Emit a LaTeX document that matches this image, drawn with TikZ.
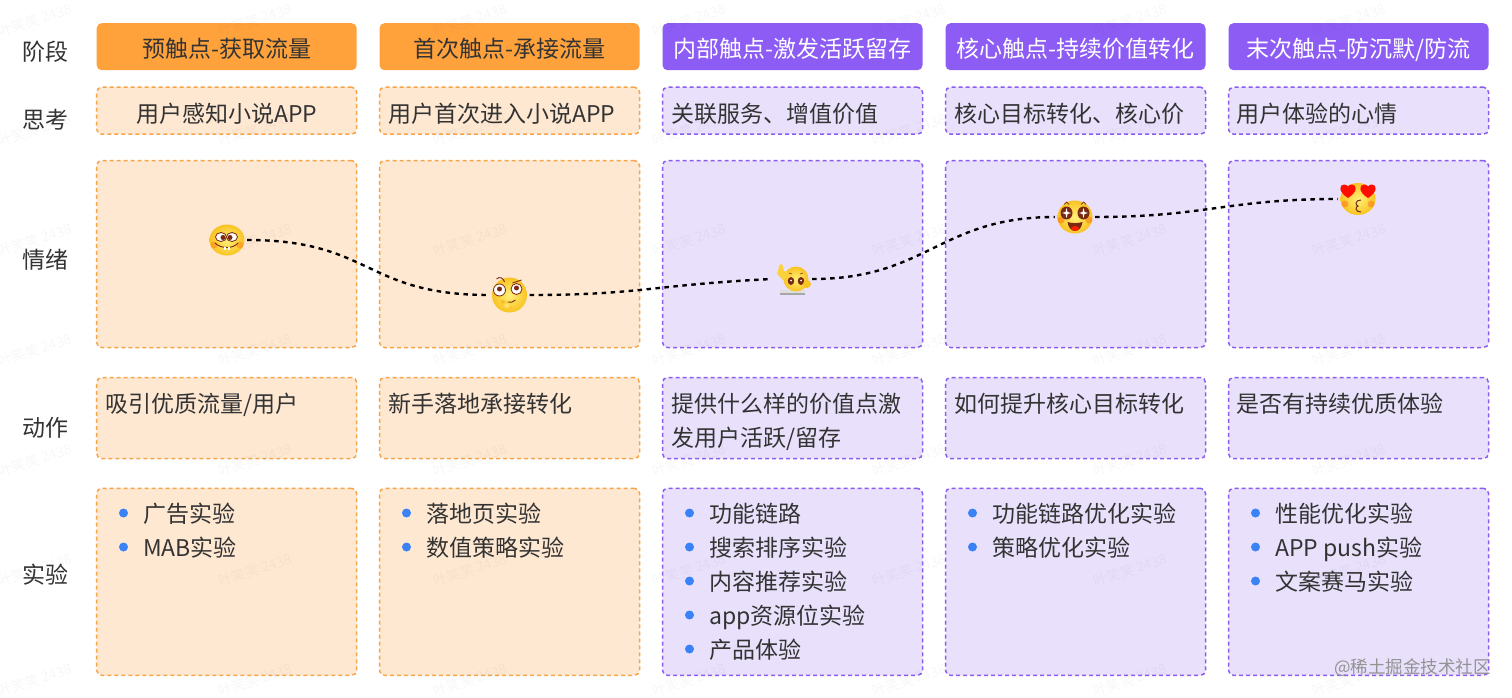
\documentclass[tikz,border=0pt]{standalone}
\usepackage{fontspec}
\setmainfont{Noto Sans CJK SC}
\usetikzlibrary{calc}
\definecolor{ink}{HTML}{333333}
\definecolor{orHead}{HTML}{FFA23C}
\definecolor{orFill}{HTML}{FEE8D2}
\definecolor{orLine}{HTML}{F6A548}
\definecolor{puHead}{HTML}{8C5CF4}
\definecolor{puFill}{HTML}{E9E1FC}
\definecolor{puLine}{HTML}{8A5CF0}
\definecolor{dotBlue}{HTML}{3B82F6}
\definecolor{eyeBrown}{HTML}{7A2A12}
\definecolor{faceHi}{HTML}{FFF07A}
\definecolor{faceLo}{HTML}{F9C321}
\newcommand{\txt}{\fontsize{23}{28}\selectfont}
\tikzset{
  x=1pt,y=-1pt,
  headO/.style={draw=none,fill=orHead,rounded corners=5pt,inner sep=0pt,minimum width=260pt},
  headP/.style={draw=none,fill=puHead,rounded corners=5pt,inner sep=0pt,minimum width=260pt},
  cellO/.style={draw=orLine,fill=orFill,line width=1.5pt,dash pattern=on 4pt off 3pt,rounded corners=5pt,inner sep=0pt,minimum width=260pt},
  cellP/.style={draw=puLine,fill=puFill,line width=1.5pt,dash pattern=on 4pt off 3pt,rounded corners=5pt,inner sep=0pt,minimum width=260pt},
  rowT/.style={minimum height=47pt},
  rowE/.style={minimum height=187pt},
  rowA/.style={minimum height=81pt},
  rowX/.style={minimum height=187pt},
  lab/.style={font=\txt,text=ink,anchor=base,inner sep=0pt},
  lft/.style={font=\txt,text=ink,anchor=base west,inner sep=0pt},
  midK/.style={font=\txt,text=ink,anchor=base,inner sep=0pt},
  midW/.style={font=\txt,text=white,anchor=base,inner sep=0pt},
  bul/.style={circle,fill=dotBlue,inner sep=0pt,minimum size=9pt},
  emo/.style={circle,inner sep=0pt,minimum size=40pt},
  moodline/.style={draw=black,line width=2.4pt,dash pattern=on 4.5pt off 4.5pt},
  wmark/.style={font=\fontsize{14}{16}\selectfont,text=black,opacity=0.03,rotate=18,inner sep=0pt},
  facefill/.style={shading=radial,inner color=faceHi,outer color=faceLo,draw=none},
}
\begin{document}
\begin{tikzpicture}
\useasboundingbox (0,0) rectangle (1512,698);
\fill[white] (0,0) rectangle (1512,698);

% cells, column by column
\node[headO,rowT] (h1) at (226.7,46.7) {};
\node[headO,rowT] (h2) at (509.5,46.7) {};
\node[headP,rowT] (h3) at (792.5,46.7) {};
\node[headP,rowT] (h4) at (1075.5,46.7) {};
\node[headP,rowT] (h5) at (1358.5,46.7) {};
\node[cellO,rowT] (t1) at (226.7,110.7) {};
\node[cellO,rowT] (t2) at (509.5,110.7) {};
\node[cellP,rowT] (t3) at (792.5,110.7) {};
\node[cellP,rowT] (t4) at (1075.5,110.7) {};
\node[cellP,rowT] (t5) at (1358.5,110.7) {};
\node[cellO,rowE] (m1) at (226.7,254) {};
\node[cellO,rowE] (m2) at (509.5,254) {};
\node[cellP,rowE] (m3) at (792.5,254) {};
\node[cellP,rowE] (m4) at (1075.5,254) {};
\node[cellP,rowE] (m5) at (1358.5,254) {};
\node[cellO,rowA] (a1) at (226.7,418) {};
\node[cellO,rowA] (a2) at (509.5,418) {};
\node[cellP,rowA] (a3) at (792.5,418) {};
\node[cellP,rowA] (a4) at (1075.5,418) {};
\node[cellP,rowA] (a5) at (1358.5,418) {};
\node[cellO,rowX] (x1) at (226.7,581.8) {};
\node[cellO,rowX] (x2) at (509.5,581.8) {};
\node[cellP,rowX] (x3) at (792.5,581.8) {};
\node[cellP,rowX] (x4) at (1075.5,581.8) {};
\node[cellP,rowX] (x5) at (1358.5,581.8) {};

% faint watermarks
\foreach \wx/\wi in {35/a,255/b,470/c,689/d,909/e,1130/f,1349/g}
  \foreach \wy/\wj in {20/a,130/b,240/c,350/d,460/e,570/f,680/g}
    \node[wmark] (w\wi\wj) at (\wx,\wy) {叶笑笑 2438};

% row labels
\node[lab] (l1) at (46,61) {阶段};
\node[lab] (l2) at (46,128.5) {思考};
\node[lab] (l3) at (46,268) {情绪};
\node[lab] (l4) at (46,436) {动作};
\node[lab] (l5) at (46,583) {实验};

% stage titles
\node[midK] at (226.7,58) (ht1) {预触点-获取流量};
\node[midK] at (509.5,58) (ht2) {首次触点-承接流量};
\node[midW] at (792.5,58) (ht3) {内部触点-激发活跃留存};
\node[midW] at (1075.5,58) (ht4) {核心触点-持续价值转化};
\node[midW] at (1358.5,58) (ht5) {末次触点-防沉默/防流};

% thinking
\node[midK] at (226.7,122.5) (tt1) {用户感知小说APP};
\node[lft] at (388,122.5) (tt2) {用户首次进入小说APP};
\node[lft] at (671,122.5) (tt3) {关联服务、增值价值};
\node[lft] at (954,122.5) (tt4) {核心目标转化、核心价};
\node[lft] at (1236.5,122.5) (tt5) {用户体验的心情};

% actions
\node[lft] at (105,412.5) (at1) {吸引优质流量/用户};
\node[lft] at (388,412.5) (at2) {新手落地承接转化};
\node[lft] at (671,412.5) (at3) {提供什么样的价值点激};
\node[lft] at (671,446.5) (at3b) {发用户活跃/留存};
\node[lft] at (954,412.5) (at4) {如何提升核心目标转化};
\node[lft] at (1236.5,412.5) (at5) {是否有持续优质体验};

% experiment lists
\foreach \bx/\by/\bn in {123.5/513/a,123.5/547/b,406.5/513/c,406.5/547/d,689.5/513/e,689.5/547/f,689.5/581/g,689.5/615/h,689.5/649/i,972.5/513/j,972.5/547/k,1255.5/513/l,1255.5/547/m,1255.5/581/n}
  \node[bul] (b\bn) at (\bx,\by) {};
\node[lft] at (143,522.5) (xa) {广告实验};
\node[lft] at (143,556.5) (xb) {MAB实验};
\node[lft] at (426,522.5) (xc) {落地页实验};
\node[lft] at (426,556.5) (xd) {数值策略实验};
\node[lft] at (709,522.5) (xe) {功能链路};
\node[lft] at (709,556.5) (xf) {搜索排序实验};
\node[lft] at (709,590.5) (xg) {内容推荐实验};
\node[lft] at (709,624.5) (xh) {app资源位实验};
\node[lft] at (709,658.5) (xi) {产品体验};
\node[lft] at (992,522.5) (xj) {功能链路优化实验};
\node[lft] at (992,556.5) (xk) {策略优化实验};
\node[lft] at (1275,522.5) (xl) {性能优化实验};
\node[lft] at (1275,556.5) (xm) {APP push实验};
\node[lft] at (1275,590.5) (xn) {文案赛马实验};

% emoji anchors
\node[emo] (e1) at (227,240) {};
\node[emo] (e2) at (509.5,295) {};
\node[emo] (e3) at (792,279) {};
\node[emo] (e4) at (1075,217) {};
\node[emo] (e5) at (1358,199) {};

% emotion curve
\draw[moodline] (e1.east) .. controls ($(e1.east)+(125,0)$) and ($(e2.west)+(-125,0)$) .. (e2.west);
\draw[moodline] (e2.east) .. controls ($(e2.east)+(110,0)$) and ($(e3.west)+(-120,6)$) .. (e3.west);
\draw[moodline] (e3.east) .. controls ($(e3.east)+(115,0)$) and ($(e4.west)+(-115,0)$) .. (e4.west);
\draw[moodline] (e4.east) .. controls ($(e4.east)+(110,0)$) and ($(e5.west)+(-110,0)$) .. (e5.west);

% emoji 1: grin
\begin{scope}[shift={(e1.center)}]
  \shade[facefill] (0,0) ellipse [x radius=17.5,y radius=15.5];
  \fill[red!60!orange,opacity=.25] (-13,5) circle (3.5);
  \fill[red!60!orange,opacity=.25] (13,5) circle (3.5);
  \fill[white] (-6,-3) ellipse [x radius=5.5,y radius=4.5];
  \fill[white] (5,-3) ellipse [x radius=5.5,y radius=4.5];
  \draw[eyeBrown,line width=.8pt] (-6,-3) ellipse [x radius=5.5,y radius=4.5];
  \draw[eyeBrown,line width=.8pt] (5,-3) ellipse [x radius=5.5,y radius=4.5];
  \fill[eyeBrown] (-4,-2.5) circle (2.5);
  \fill[eyeBrown] (3,-2.5) circle (2.5);
  \draw[eyeBrown,line width=.9pt] (-12,3) .. controls (-6,9) and (6,9) .. (11,3);
  \fill[white] (-3.5,7) rectangle (-1,9.5);
  \fill[white] (0.5,7) rectangle (3,9.5);
\end{scope}

% emoji 2: thinking
\begin{scope}[shift={(e2.center)}]
  \shade[facefill] (0,0) circle (17.5);
  \fill[white] (-10,-5) circle (6);
  \fill[white] (7,-6) circle (5.5);
  \draw[eyeBrown,line width=.8pt] (-10,-5) circle (6);
  \draw[eyeBrown,line width=.8pt] (7,-6) circle (5.5);
  \fill[eyeBrown] (-10,-6) circle (2.5);
  \fill[eyeBrown] (7,-7) circle (2.5);
  \draw[eyeBrown,line width=.9pt] (-13,-16) .. controls (-10,-19) and (-6,-17) .. (-5,-13);
  \draw[eyeBrown,line width=.9pt] (3,-12) -- (12,-15);
  \draw[eyeBrown,line width=.9pt] (-2,7) .. controls (1,8) and (4,7) .. (6,5);
  \shade[inner color=faceHi,outer color=faceLo!85!orange,draw=none] (-9,5) .. controls (-4,5) and (0,9) .. (3,12) .. controls (2,15) and (-3,14) .. (-7,11) -- cycle;
\end{scope}

% emoji 3: hand raised
\begin{scope}[shift={(e3.center)}]
  \fill[gray!70] (-12,14) rectangle (13,16);
  \fill[white!75!gray] (-12,11) rectangle (13,14);
  \shade[facefill] (4,0) circle (12.5);
  \fill[faceLo!70!faceHi] (-8,2) -- (-13,-3) -- (-15,-6) .. controls (-14,-9) and (-13,-10) .. (-13,-13) .. controls (-12,-16) and (-9,-15) .. (-9,-12) -- (-8,-8) -- (-3,-6) -- cycle;
  \fill[eyeBrown] (-1,2) ellipse [x radius=3.2,y radius=4];
  \fill[eyeBrown] (9,2) ellipse [x radius=3.2,y radius=4];
  \fill[white] (-1,1.5) circle (1);
  \fill[white] (9,1.5) circle (1);
  \draw[eyeBrown,line width=.6pt] (-3,-6) -- (0,-5);
  \draw[eyeBrown,line width=.6pt] (11,-6) -- (8,-5);
  \fill[faceLo] (15,5) circle (4);
\end{scope}

% emoji 4: sparkling eyes
\begin{scope}[shift={(e4.center)}]
  \shade[facefill] (0,0) ellipse [x radius=17.5,y radius=16.5];
  \fill[red!60!orange,opacity=.3] (-14,3) circle (3.5);
  \fill[red!60!orange,opacity=.3] (14,3) circle (3.5);
  \fill[eyeBrown] (-8.5,-4) ellipse [x radius=6,y radius=6.5];
  \fill[eyeBrown] (8.5,-4) ellipse [x radius=6,y radius=6.5];
  \fill[white] (-8.5,-9) -- (-7.5,-5) -- (-4,-4) -- (-7.5,-3) -- (-8.5,1) -- (-9.5,-3) -- (-13,-4) -- (-9.5,-5) -- cycle;
  \fill[white] (8.5,-9) -- (9.5,-5) -- (13,-4) -- (9.5,-3) -- (8.5,1) -- (7.5,-3) -- (4,-4) -- (7.5,-5) -- cycle;
  \draw[eyeBrown,line width=.7pt] (-11,-12.5) -- (-8.5,-15) -- (-6,-12.5);
  \draw[eyeBrown,line width=.7pt] (6,-12.5) -- (8.5,-15) -- (11,-12.5);
  \fill[eyeBrown] (-7.5,5) .. controls (-3,6.5) and (3,6.5) .. (7.5,5) .. controls (6,17) and (-6,17) .. (-7.5,5) -- cycle;
  \fill[red!75!orange] (-4,11) .. controls (-2,8.5) and (2,8.5) .. (4,11) .. controls (2,15) and (-2,15) .. (-4,11) -- cycle;
\end{scope}

% emoji 5: heart eyes, kiss
\begin{scope}[shift={(e5.center)}]
  \shade[facefill] (0,0) ellipse [x radius=17.5,y radius=16];
  \fill[red!60!orange,opacity=.3] (-13,5) circle (3.5);
  \fill[red!60!orange,opacity=.3] (13,5) circle (3.5);
  \fill[red!90!orange] (-10,-1) .. controls (-20,-7) and (-19,-14.5) .. (-14,-14.5) .. controls (-12,-14.5) and (-10.5,-13.5) .. (-10,-12.5) .. controls (-9.5,-13.5) and (-8,-14.5) .. (-6,-14.5) .. controls (-1,-14.5) and (0,-7) .. (-10,-1) -- cycle;
  \fill[red!90!orange] (10,-1) .. controls (0,-7) and (1,-14.5) .. (6,-14.5) .. controls (8,-14.5) and (9.5,-13.5) .. (10,-12.5) .. controls (10.5,-13.5) and (12,-14.5) .. (14,-14.5) .. controls (19,-14.5) and (20,-7) .. (10,-1) -- cycle;
  \draw[eyeBrown,line width=1pt] (3,1) .. controls (-3,1) and (-3,6.5) .. (0,7) .. controls (-3,7.5) and (-3,13) .. (3,13);
\end{scope}

% site mark
\node[font=\fontsize{17.5}{20}\selectfont,text=gray!85,anchor=base east,inner sep=0pt] (site) at (1491,673) {@稀土掘金技术社区};
\end{tikzpicture}
\end{document}
